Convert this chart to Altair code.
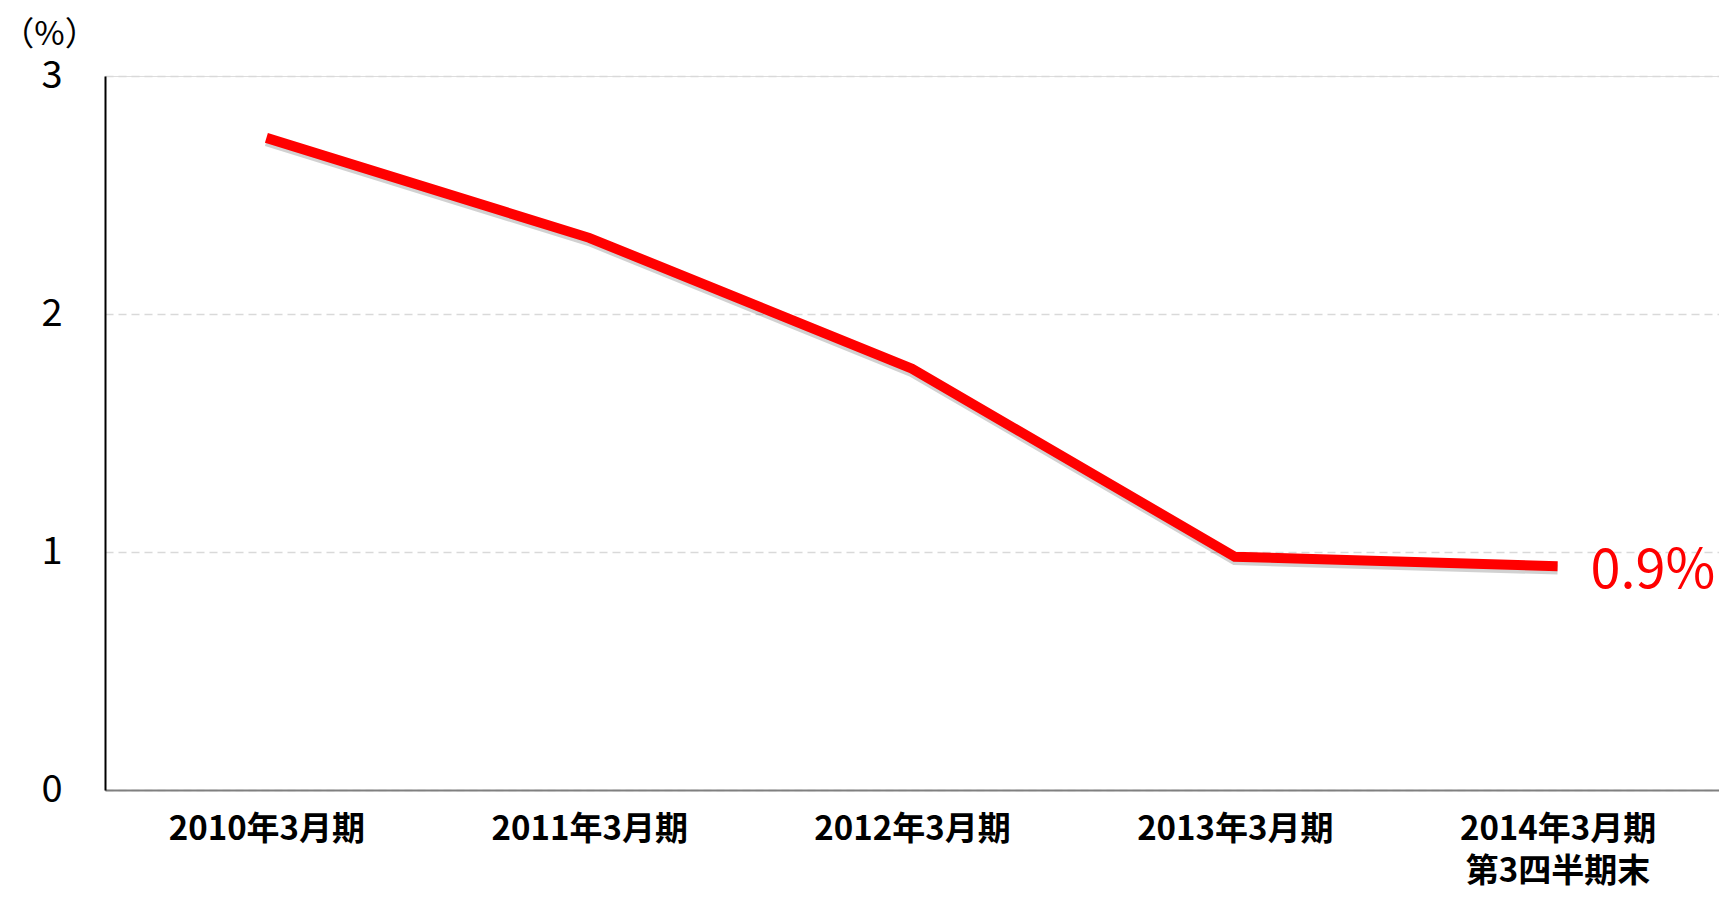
import altair as alt
import pandas as pd

categories = ["2010年3月期", "2011年3月期", "2012年3月期", "2013年3月期", "2014年3月期\n第3四半期末"]
values = [2.74, 2.32, 1.77, 0.98, 0.94]
end_labels = ["", "", "", "", "0.9%"]
y_ticks = [0, 1, 2, 3]

df = pd.DataFrame({"cat": categories, "value": values, "label": end_labels})

FONT = "Noto Sans CJK JP"

x_enc = alt.X(
    "cat:N",
    sort=categories,
    scale=alt.Scale(type="point", padding=0.5),
    axis=alt.Axis(
        title=None,
        labelAngle=0,
        labelExpr="split(datum.label, '\\n')",
        labelFont=FONT,
        labelFontSize=33,
        labelFontWeight="bold",
        labelColor="#000000",
        labelLineHeight=42,
        labelPadding=23,
        labelBaseline="top",
        labelLimit=0,
        labelOverlap=False,
        ticks=False,
        domainColor="#808080",
        domainWidth=2,
        grid=False,
    ),
)

y_scale = alt.Scale(domain=[0, 3], nice=False, zero=True)
y_axis = alt.Axis(
    values=y_ticks,
    format="d",
    title="（%）",
    titleAngle=0,
    titleX=-56,
    titleY=-42,
    titleAlign="center",
    titleBaseline="middle",
    titleFont=FONT,
    titleFontSize=33,
    titleFontWeight="normal",
    titleColor="#000000",
    labelFont=FONT,
    labelFontSize=38,
    labelFontWeight="normal",
    labelColor="#000000",
    labelPadding=43,
    labelBaseline="middle",
    ticks=False,
    domainColor="#000000",
    domainWidth=2,
    grid=True,
    gridColor="#d9d9d9",
    gridDash=[8, 5],
    gridWidth=1.5,
)

base = alt.Chart(df)

shadow = base.transform_calculate(shadow="datum.value - 0.014").mark_line(
    color="#000000", opacity=0.18, strokeWidth=10, strokeCap="butt", strokeJoin="miter"
).encode(x=x_enc, y=alt.Y("shadow:Q", scale=y_scale, axis=y_axis))

line = base.mark_line(
    color="#ff0000", strokeWidth=10, strokeCap="butt", strokeJoin="miter"
).encode(x=x_enc, y=alt.Y("value:Q", scale=y_scale, axis=y_axis))

text = base.transform_filter("datum.label != ''").mark_text(
    align="left", baseline="middle", dx=33, dy=6, fontSize=54, color="#ff0000",
    font=FONT
).encode(x=x_enc, y=alt.Y("value:Q", scale=y_scale), text="label:N")

chart = (
    alt.layer(shadow, line, text)
    .properties(
        width=1614,
        height=714,
        autosize=alt.AutoSizeParams(type="none"),
        padding={"left": 97, "top": 68, "right": 0, "bottom": 99},
    )
    .configure_view(stroke=None)
    .configure(background="#ffffff")
)

chart.save("out.html", embed_options={"renderer": "svg", "actions": False})
